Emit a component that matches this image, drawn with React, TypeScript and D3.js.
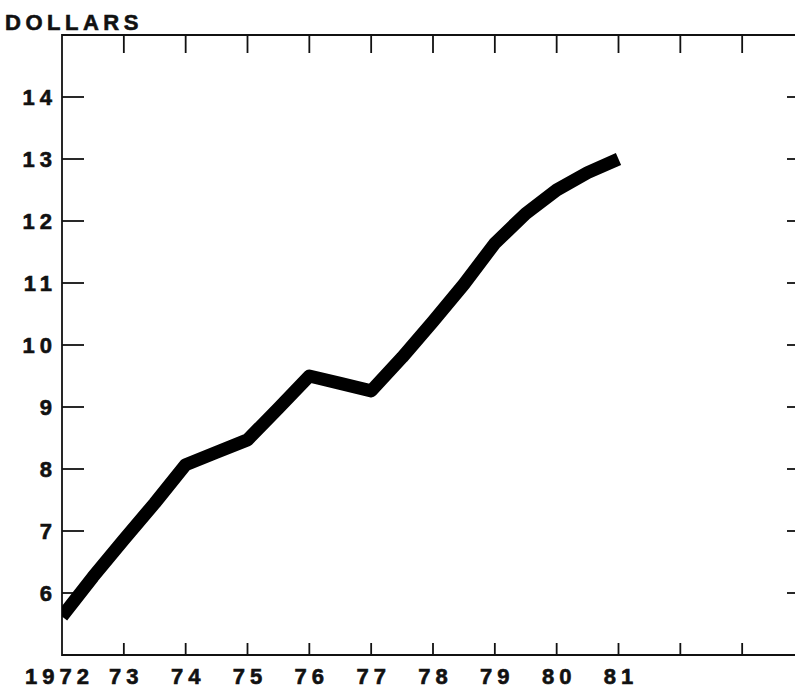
import React, { useEffect, useRef } from 'react';
import * as d3 from 'd3';

// half-year readings, dollars
const years = [1972, 1972.5, 1973, 1973.5, 1974, 1974.5, 1975, 1975.5, 1976, 1976.5, 1977, 1977.5, 1978, 1978.5, 1979, 1979.5, 1980, 1980.5, 1981];
const dollars = [5.62, 6.26, 6.86, 7.45, 8.07, 8.27, 8.47, 8.98, 9.5, 9.38, 9.26, 9.8, 10.38, 10.98, 11.64, 12.12, 12.5, 12.78, 13.0];

const yTicks = [6, 7, 8, 9, 10, 11, 12, 13, 14];
const xTicks = [1973, 1974, 1975, 1976, 1977, 1978, 1979, 1980, 1981, 1982, 1983];
const xLabels = ['1972', '73', '74', '75', '76', '77', '78', '79', '80', '81'];

const App: React.FC = () => {
  const svgRef = useRef<SVGSVGElement>(null);

  useEffect(() => {
    if (!svgRef.current) return;
    d3.select(svgRef.current).selectAll('*').remove();

    const width = 795;
    const height = 689;
    const left = 62;
    const right = 804;   // right frame sits just off the picture
    const top = 35;
    const bottom = 655;
    const font = "'Liberation Sans', Arial, Helvetica, sans-serif";
    const ink = '#111';
    const labelSize = 22;
    const digitSpacing = 5;

    const x = d3.scaleLinear().domain([1972, 1984]).range([left, right]);
    const y = d3.scaleLinear().domain([5, 15]).range([bottom, top]);

    const svg = d3.select(svgRef.current)
      .attr('width', width)
      .attr('height', height);

    // frame
    svg.append('path')
      .attr('d', `M${right},${top}H${left}V${bottom}H${right}`)
      .attr('fill', 'none')
      .attr('stroke', ink)
      .attr('stroke-width', 1.8);

    // top and bottom ticks
    xTicks.forEach(t => {
      svg.append('line')
        .attr('x1', x(t)).attr('x2', x(t))
        .attr('y1', top).attr('y2', top + 18)
        .attr('stroke', ink).attr('stroke-width', 1.8);
      svg.append('line')
        .attr('x1', x(t)).attr('x2', x(t))
        .attr('y1', bottom).attr('y2', bottom - 12)
        .attr('stroke', ink).attr('stroke-width', 1.8);
    });

    // left and right ticks + labels
    yTicks.forEach(v => {
      svg.append('line')
        .attr('x1', left).attr('x2', left + 22)
        .attr('y1', y(v)).attr('y2', y(v))
        .attr('stroke', ink).attr('stroke-width', 1.8);
      svg.append('line')
        .attr('x1', right - 17).attr('x2', right)
        .attr('y1', y(v)).attr('y2', y(v))
        .attr('stroke', ink).attr('stroke-width', 1.8);
      // trailing letter-spacing pushes glyphs left, so anchor a bit further right
      svg.append('text')
        .attr('x', 52 + digitSpacing)
        .attr('y', y(v))
        .attr('dy', '0.36em')
        .attr('text-anchor', 'end')
        .attr('font-family', font)
        .attr('font-size', labelSize)
        .attr('font-weight', 'bold')
        .attr('letter-spacing', digitSpacing)
        .attr('stroke', ink)
        .attr('stroke-width', 0.6)
        .attr('fill', ink)
        .text(String(v));
    });

    // year labels
    xLabels.forEach((label, i) => {
      svg.append('text')
        .attr('x', x(1972 + i) + digitSpacing / 2 + (i === 0 ? -5 : 0))
        .attr('y', 684)
        .attr('text-anchor', 'middle')
        .attr('font-family', font)
        .attr('font-size', labelSize)
        .attr('font-weight', 'bold')
        .attr('letter-spacing', digitSpacing)
        .attr('stroke', ink)
        .attr('stroke-width', 0.6)
        .attr('fill', ink)
        .text(label);
    });

    // axis title
    svg.append('text')
      .attr('x', 5)
      .attr('y', 30)
      .attr('font-family', font)
      .attr('font-size', labelSize)
      .attr('font-weight', 'bold')
      .attr('letter-spacing', 4.5)
      .attr('stroke', ink)
      .attr('stroke-width', 0.6)
      .attr('fill', ink)
      .text('DOLLARS');

    // the series, clipped to the frame
    svg.append('clipPath').attr('id', 'plot-clip')
      .append('rect')
      .attr('x', left).attr('y', top)
      .attr('width', right - left).attr('height', bottom - top);

    const line = d3.line<number>()
      .x((_, i) => x(years[i]))
      .y(d => y(d))
      .curve(d3.curveLinear);

    svg.append('path')
      .attr('d', line(dollars))
      .attr('clip-path', 'url(#plot-clip)')
      .attr('fill', 'none')
      .attr('stroke', '#000')
      .attr('stroke-width', 13)
      .attr('stroke-linejoin', 'round')
      .attr('stroke-linecap', 'butt');
  }, []);

  return (
    <div style={{ position: 'absolute', left: 0, top: 0 }}>
      <svg ref={svgRef} style={{ display: 'block' }}></svg>
    </div>
  );
};

export default App;
